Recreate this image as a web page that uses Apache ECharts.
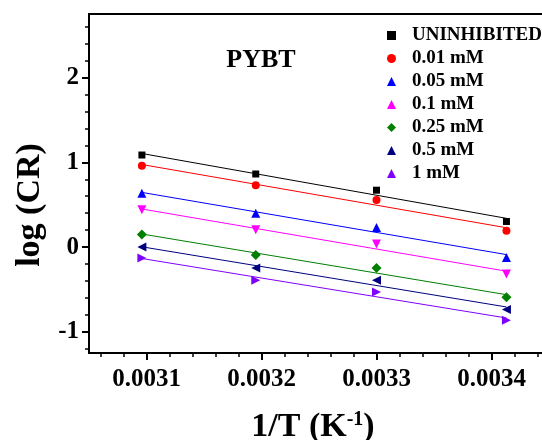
<!DOCTYPE html>
<html>
<head>
<meta charset="utf-8">
<script src="https://cdn.jsdelivr.net/npm/echarts@6/dist/echarts.min.js"></script>
<style>
html,body{margin:0;padding:0;background:#fff;}
#chart{width:542px;height:440px;}
</style>
</head>
<body>
<div id="chart"></div>
<script>
// ---- data ----
const seriesNames = ['UNINHIBITED', '0.01 mM', '0.05 mM', '0.1 mM', '0.25 mM', '0.5 mM', '1 mM'];
const invT = [0.003096, 0.003195, 0.003300, 0.003413];   // 1/T (K^-1)
const logCR_uninhibited = [1.086, 0.862, 0.671, 0.302];
const logCR_001 = [0.960, 0.729, 0.556, 0.192];
const logCR_005 = [0.635, 0.400, 0.231, -0.122];
const logCR_01 = [0.439, 0.204, 0.035, -0.318];
const logCR_025 = [0.149, -0.094, -0.247, -0.593];
const logCR_05 = [0.000, -0.247, -0.393, -0.738];
const logCR_1 = [-0.129, -0.393, -0.529, -0.863];
// fitted straight lines: value at first and at last 1/T
const fit_uninhibited = [1.104, 0.339];
const fit_001 = [0.974, 0.228];
const fit_005 = [0.645, -0.089];
const fit_01 = [0.449, -0.285];
const fit_025 = [0.154, -0.562];
const fit_05 = [0.003, -0.707];
const fit_1 = [-0.135, -0.837];
const xTickLabels = [0.0031, 0.0032, 0.0033, 0.0034];
const yTickLabels = [-1, 0, 1, 2];

// ---- styling ----
const FONT = '"Liberation Serif", "Times New Roman", serif';
const colors = ['#000000', '#ff0000', '#0000ff', '#ff00ff', '#008000', '#000080', '#8000ff'];
const symbols = ['rect', 'circle', 'triangle', 'triangle', 'diamond', 'triangle', 'triangle'];
const rotations = [0, 0, 0, 180, 0, 90, -90];
const sizes = [7, 8, 9, 9, 10, 9, 9];
const values = [logCR_uninhibited, logCR_001, logCR_005, logCR_01, logCR_025, logCR_05, logCR_1];
const fits = [fit_uninhibited, fit_001, fit_005, fit_01, fit_025, fit_05, fit_1];

const xMinor = [];
for (let i = 153; i <= 172; i++) { if (i % 5 !== 0) xMinor.push(+(i * 0.00002).toFixed(6)); }
const yMinor = [];
for (let i = -6; i <= 13; i++) { if (i % 5 !== 0) yMinor.push(+(i * 0.2).toFixed(2)); }

const series = [];
fits.forEach((f, k) => {
  series.push({
    name: seriesNames[k] + ' fit', type: 'line', xAxisIndex: 0, yAxisIndex: 0,
    data: [[invT[0], f[0]], [invT[invT.length - 1], f[1]]],
    showSymbol: false, symbol: 'none', silent: true,
    lineStyle: { color: colors[k], width: 1 }, z: 2
  });
});
values.forEach((v, k) => {
  series.push({
    name: seriesNames[k], type: 'scatter', xAxisIndex: 0, yAxisIndex: 0,
    data: v.map((y, i) => [invT[i], y]),
    symbol: symbols[k], symbolRotate: rotations[k], symbolSize: sizes[k],
    itemStyle: { color: colors[k], opacity: 1 }, z: 3
  });
});

const chart = echarts.init(document.getElementById('chart'), null, { renderer: 'canvas' });
chart.setOption({
  animation: false,
  backgroundColor: '#fff',
  grid: { left: 89, top: 14, right: -7, bottom: 87, show: true, borderColor: '#000', borderWidth: 2,
    containLabel: false, outerBoundsMode: 'none' },
  xAxis: [{
    type: 'value', min: 0.00305, max: 0.00345, position: 'bottom',
    name: '{a|1/T (K}{s|-1}{a|)}', nameLocation: 'middle', nameGap: 57,
    nameTextStyle: {
      padding: [0, 12, 0, 0],
      rich: {
        a: { fontFamily: FONT, fontWeight: 'bold', fontSize: 34, color: '#000' },
        s: { fontFamily: FONT, fontWeight: 'bold', fontSize: 20, color: '#000', verticalAlign: 'top', padding: [0, 0, 14, 0] }
      }
    },
    axisLine: { show: true, onZero: false, lineStyle: { color: '#000', width: 2 } },
    axisTick: { show: true, inside: false, length: 7, customValues: xTickLabels, lineStyle: { color: '#000', width: 2 } },
    axisLabel: { customValues: xTickLabels, margin: 14, fontFamily: FONT, fontWeight: 'bold', fontSize: 25, color: '#000',
      formatter: v => v.toFixed(4) },
    splitLine: { show: false }
  }, {
    type: 'value', min: 0.00305, max: 0.00345, position: 'bottom',
    axisLine: { show: false, onZero: false },
    axisTick: { show: true, inside: false, length: 4, customValues: xMinor, lineStyle: { color: '#000', width: 1.5 } },
    axisLabel: { show: false }, splitLine: { show: false }
  }],
  yAxis: [{
    type: 'value', min: -1.25, max: 2.75, position: 'left',
    name: 'log (CR)', nameLocation: 'middle', nameGap: 41, nameRotate: 90,
    nameTextStyle: { fontFamily: FONT, fontWeight: 'bold', fontSize: 34, color: '#000', padding: [0, 43, 0, 0] },
    axisLine: { show: true, onZero: false, lineStyle: { color: '#000', width: 2 } },
    axisTick: { show: true, inside: false, length: 7, customValues: yTickLabels, lineStyle: { color: '#000', width: 2 } },
    axisLabel: { customValues: yTickLabels, margin: 10, fontFamily: FONT, fontWeight: 'bold', fontSize: 25, color: '#000' },
    splitLine: { show: false }
  }, {
    type: 'value', min: -1.25, max: 2.75, position: 'left',
    axisLine: { show: false, onZero: false },
    axisTick: { show: true, inside: false, length: 4, customValues: yMinor, lineStyle: { color: '#000', width: 1.5 } },
    axisLabel: { show: false }, splitLine: { show: false }
  }],
  legend: {
    orient: 'vertical', left: 382, top: 21, itemWidth: 9, itemHeight: 9, itemGap: 4,
    symbolKeepAspect: true,
    data: seriesNames,
    textStyle: { fontFamily: FONT, fontWeight: 'bold', fontSize: 19, color: '#000', padding: [0, 0, 0, 11] }
  },
  graphic: [{
    type: 'text', x: 261, y: 60,
    style: { text: 'PYBT', fontFamily: FONT, fontWeight: 'bold', fontSize: 26, fill: '#000', textAlign: 'center', textVerticalAlign: 'middle' }
  }],
  series: series
});
</script>
</body>
</html>
